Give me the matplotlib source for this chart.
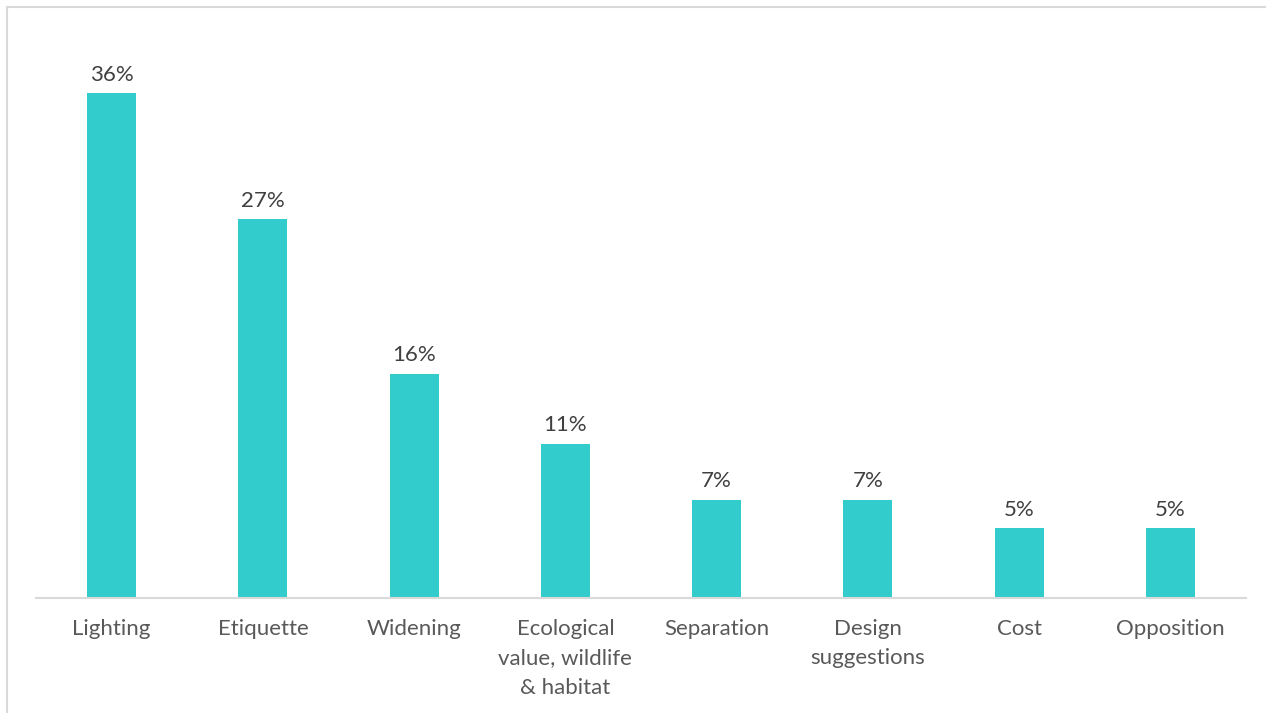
import matplotlib.pyplot as plt
from matplotlib.patches import Rectangle

categories = ["Lighting", "Etiquette", "Widening", "Ecological\nvalue, wildlife\n& habitat",
              "Separation", "Design\nsuggestions", "Cost", "Opposition"]
values = [36, 27, 16, 11, 7, 7, 5, 5]
labels = ["36%", "27%", "16%", "11%", "7%", "7%", "5%", "5%"]

plt.rcParams["font.family"] = ["Lato", "DejaVu Sans"]

fig = plt.figure(figsize=(12.66, 7.13), dpi=100)
ax = fig.add_axes([36 / 1266, 1 - 598 / 713, 1210 / 1266, 568 / 713])

x = range(len(categories))
bars = ax.bar(x, values, width=0.325, color="#33CCCC")
ax.set_xlim(-0.5, len(categories) - 0.5)
ax.set_ylim(0, 568 / 14.03)

for b, lab in zip(bars, labels):
    ax.annotate(lab, (b.get_x() + b.get_width() / 2, b.get_height()),
                xytext=(0, 6), textcoords="offset points", ha="center", va="bottom",
                fontsize=16, color="#404040")

ax.set_xticks(list(x))
ax.set_xticklabels(categories, fontsize=16, color="#595959", linespacing=1.6, va="top")
ax.tick_params(axis="x", length=0, pad=15)
ax.set_yticks([])
for s in ["top", "right", "left"]:
    ax.spines[s].set_visible(False)
ax.spines["bottom"].set_color("#D9D9D9")
ax.spines["bottom"].set_linewidth(1.5)

# outer chart border
fig.patches.append(Rectangle((7 / 1266, -0.1), 1.2, 1 - 7 / 713 + 0.1, transform=fig.transFigure,
                             fill=False, edgecolor="#D9D9D9", linewidth=1.5))

fig.savefig("out.png", dpi=100)
